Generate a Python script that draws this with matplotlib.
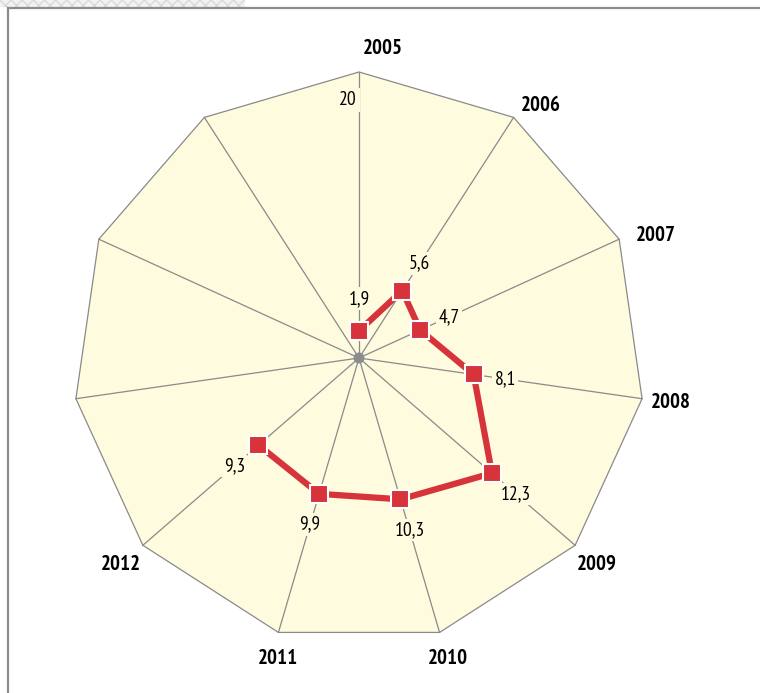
import numpy as np
import matplotlib
matplotlib.use("Agg")
import matplotlib.pyplot as plt
from matplotlib.patches import Polygon, Rectangle, Circle

plt.rcParams["font.family"] = ["PT Sans Narrow", "DejaVu Sans"]

# data
axis_labels = ["2005", "2006", "2007", "2008", "2009", "2010", "2011", "2012", "", "", ""]
values = [1.9, 5.6, 4.7, 8.1, 12.3, 10.3, 9.9, 9.3]
value_labels = ["1,9", "5,6", "4,7", "8,1", "12,3", "10,3", "9,9", "9,3"]
scale_max = 20

FILL = "#fefbde"
RED = "#d6333a"
GRID = "#8a8a8a"

W, H = 760, 693
cx, cy, R = 359, 358, 286

fig = plt.figure(figsize=(W / 100, H / 100), dpi=100)
ax = fig.add_axes([0, 0, 1, 1])
ax.set_xlim(0, W)
ax.set_ylim(H, 0)
ax.axis("off")

n = len(axis_labels)
ang = np.arange(n) * 2 * np.pi / n


def to_xy(r, a):
	return cx + r * np.sin(a), cy - r * np.cos(a)


# frame and decoration strip
ax.add_patch(Rectangle((0, 0), 245, 7, facecolor="#f2f2f2", edgecolor="#d9d9d9",
	hatch="xxx", linewidth=0, zorder=1))
ax.plot([8, W], [8, 8], color="#8c8c8c", lw=1.6, zorder=2)
ax.plot([8, 8], [8, H], color="#8c8c8c", lw=1.6, zorder=2)

# polygon background
vx, vy = to_xy(R, ang)
ax.add_patch(Polygon(np.column_stack([vx, vy]), closed=True, facecolor=FILL,
	edgecolor=GRID, lw=0.9, zorder=2))
for x, y in zip(vx, vy):
	ax.plot([cx, x], [cy, y], color=GRID, lw=0.9, zorder=3)

# axis max label
lx, ly = to_xy(258, 0)
ax.text(lx - 11, ly, str(scale_max), ha="center", va="center", fontsize=14,
	zorder=4, bbox=dict(boxstyle="square,pad=0.15", fc=FILL, ec="none"))

# year labels
tweak = {"2005": (24, 6), "2006": (12, 12), "2007": (10, 8), "2011": (8, -2), "2010": (0, -2)}
for lab, a in zip(axis_labels, ang):
	if not lab:
		continue
	x, y = to_xy(R + 29, a)
	dx, dy = tweak.get(lab, (0, 0))
	ax.text(x + dx, y + dy, lab, ha="center", va="center", fontsize=15,
		fontweight="bold", zorder=4)

# series
r = np.array(values) / scale_max * R
px, py = to_xy(r, ang[:len(values)])
ax.plot(px, py, color=RED, lw=4.5, solid_capstyle="butt", zorder=5)
ax.plot(px, py, ls="none", marker="s", ms=13, mfc=RED, mec="white", mew=1.5, zorder=6)
ax.add_patch(Circle((cx, cy), 5.5, facecolor="#8c8c8c", edgecolor="none", zorder=6))

for v, t, a in zip(values, value_labels, ang):
	x, y = to_xy(v / scale_max * R + 32, a)
	ax.text(x, y, t, ha="center", va="center", fontsize=14, zorder=7,
		bbox=dict(boxstyle="square,pad=0.12", fc=FILL, ec="none"))

fig.savefig("out.png", dpi=100)
